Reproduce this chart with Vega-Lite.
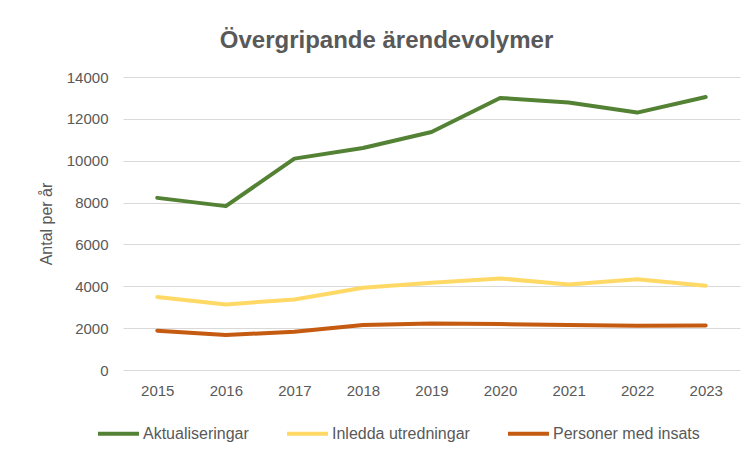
{
  "$schema": "https://vega.github.io/schema/vega-lite/v6.json",
  "width": 617,
  "height": 293,
  "autosize": {"type": "none"},
  "padding": {"left": 123, "top": 77, "right": 13, "bottom": 87},
  "background": "white",
  "title": {
    "text": "Övergripande ärendevolymer",
    "anchor": "middle",
    "frame": "group",
    "dx": -45,
    "offset": 17,
    "font": "Liberation Sans",
    "fontSize": 24,
    "fontWeight": "bold",
    "color": "#595959"
  },
  "data": {
    "values": [
      {"year": "2015", "serie": "Aktualiseringar", "value": 8225},
      {"year": "2016", "serie": "Aktualiseringar", "value": 7830},
      {"year": "2017", "serie": "Aktualiseringar", "value": 10100},
      {"year": "2018", "serie": "Aktualiseringar", "value": 10610},
      {"year": "2019", "serie": "Aktualiseringar", "value": 11375},
      {"year": "2020", "serie": "Aktualiseringar", "value": 13000},
      {"year": "2021", "serie": "Aktualiseringar", "value": 12780},
      {"year": "2022", "serie": "Aktualiseringar", "value": 12300},
      {"year": "2023", "serie": "Aktualiseringar", "value": 13045},
      {"year": "2015", "serie": "Inledda utredningar", "value": 3485},
      {"year": "2016", "serie": "Inledda utredningar", "value": 3135},
      {"year": "2017", "serie": "Inledda utredningar", "value": 3370},
      {"year": "2018", "serie": "Inledda utredningar", "value": 3930},
      {"year": "2019", "serie": "Inledda utredningar", "value": 4165},
      {"year": "2020", "serie": "Inledda utredningar", "value": 4375},
      {"year": "2021", "serie": "Inledda utredningar", "value": 4090},
      {"year": "2022", "serie": "Inledda utredningar", "value": 4340},
      {"year": "2023", "serie": "Inledda utredningar", "value": 4025},
      {"year": "2015", "serie": "Personer med insats", "value": 1880},
      {"year": "2016", "serie": "Personer med insats", "value": 1670},
      {"year": "2017", "serie": "Personer med insats", "value": 1830},
      {"year": "2018", "serie": "Personer med insats", "value": 2150},
      {"year": "2019", "serie": "Personer med insats", "value": 2225},
      {"year": "2020", "serie": "Personer med insats", "value": 2195},
      {"year": "2021", "serie": "Personer med insats", "value": 2150},
      {"year": "2022", "serie": "Personer med insats", "value": 2115},
      {"year": "2023", "serie": "Personer med insats", "value": 2130}
    ]
  },
  "mark": {"type": "line", "strokeWidth": 4, "strokeCap": "round", "strokeJoin": "round"},
  "encoding": {
    "x": {
      "field": "year",
      "type": "ordinal",
      "scale": {"type": "point", "padding": 0.5},
      "axis": {
        "title": null,
        "labelAngle": 0,
        "ticks": false,
        "domain": false,
        "grid": false,
        "labelPadding": 13,
        "labelFont": "Liberation Sans",
        "labelFontSize": 15,
        "labelColor": "#595959"
      }
    },
    "y": {
      "field": "value",
      "type": "quantitative",
      "scale": {"domain": [0, 14000], "nice": false},
      "axis": {
        "title": "Antal per år",
        "titleFont": "Liberation Sans",
        "titleFontSize": 16,
        "titleFontWeight": "normal",
        "titleColor": "#595959",
        "titlePadding": 12,
        "values": [0, 2000, 4000, 6000, 8000, 10000, 12000, 14000],
        "format": "d",
        "ticks": false,
        "domain": false,
        "grid": true,
        "gridColor": "#d9d9d9",
        "gridWidth": 1,
        "labelPadding": 15,
        "labelFont": "Liberation Sans",
        "labelFontSize": 15,
        "labelColor": "#595959"
      }
    },
    "color": {
      "field": "serie",
      "type": "nominal",
      "scale": {
        "domain": ["Aktualiseringar", "Inledda utredningar", "Personer med insats"],
        "range": ["#548235", "#FFD966", "#C55A11"]
      },
      "legend": {
        "title": null,
        "orient": "none",
        "direction": "horizontal",
        "legendX": -27,
        "legendY": 334,
        "symbolType": "stroke",
        "symbolSize": 1681,
        "symbolStrokeWidth": 4,
        "labelOffset": 2,
        "columnPadding": 30,
        "labelFont": "Liberation Sans",
        "labelFontSize": 16,
        "labelColor": "#595959"
      }
    }
  },
  "config": {"view": {"stroke": null}}
}
